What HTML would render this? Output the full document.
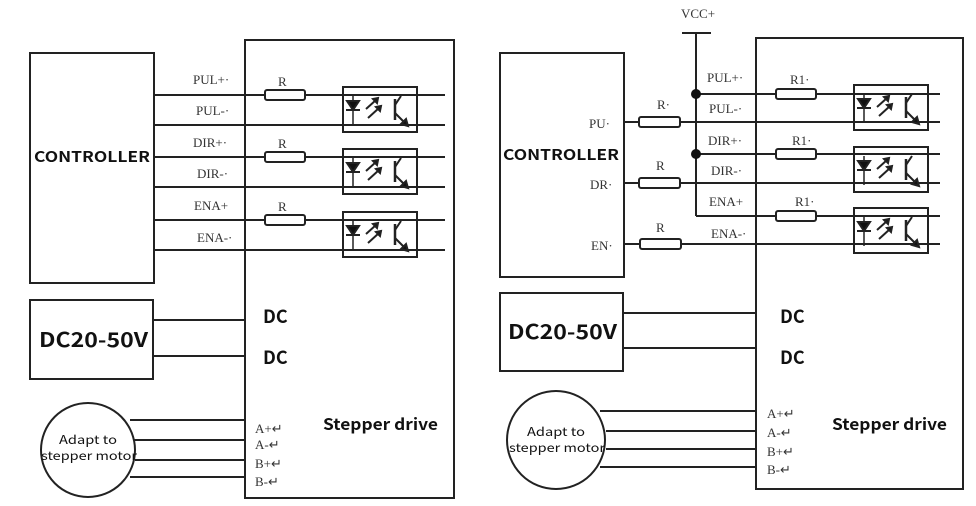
<!DOCTYPE html>
<html><head><meta charset="utf-8"><style>
html,body{margin:0;padding:0;background:#fff;}
svg{display:block;}
.s{font-family:"Liberation Serif",serif;font-size:13px;fill:#333;}
.b{font-family:"Noto Sans CJK SC","Liberation Sans",sans-serif;fill:#111;}
</style></head><body>
<svg width="976" height="506" viewBox="0 0 976 506" xmlns="http://www.w3.org/2000/svg">
<defs>
<g id="opto" stroke="#222" stroke-width="2" fill="none">
 <rect x="0" y="0" width="74" height="45"/>
 <line x1="10" y1="9" x2="10" y2="38" stroke-width="1.5"/>
 <polygon points="4,14 16,14 10,23" fill="#111"/>
 <line x1="3" y1="23" x2="17" y2="23"/>
 <line x1="23" y1="22" x2="33" y2="13"/><polygon points="30,12 35,11 34,16" fill="#111"/>
 <line x1="25" y1="31" x2="36" y2="21"/><polygon points="33,20 38,19 37,24" fill="#111"/>
 <line x1="52" y1="12" x2="52" y2="33" stroke-width="2.5"/>
 <line x1="52" y1="18" x2="58" y2="9"/>
 <line x1="52" y1="26" x2="64" y2="38"/><polygon points="58,37 65,39 63,32" fill="#111"/>
</g>
</defs>
<g stroke="#222" stroke-width="2" fill="none">
 <rect x="30" y="53" width="124" height="230"/>
 <rect x="245" y="40" width="209" height="458"/>
 <line x1="154" y1="95" x2="265" y2="95"/><line x1="305" y1="95" x2="445" y2="95"/>
 <line x1="154" y1="125" x2="445" y2="125"/>
 <line x1="154" y1="157" x2="265" y2="157"/><line x1="305" y1="157" x2="445" y2="157"/>
 <line x1="154" y1="187" x2="445" y2="187"/>
 <line x1="154" y1="220" x2="265" y2="220"/><line x1="305" y1="220" x2="445" y2="220"/>
 <line x1="154" y1="250" x2="445" y2="250"/>
 <rect x="265" y="90" width="40" height="10" rx="2"/>
 <rect x="265" y="152" width="40" height="10" rx="2"/>
 <rect x="265" y="215" width="40" height="10" rx="2"/>
 <rect x="30" y="300" width="123" height="79"/>
 <line x1="153" y1="320" x2="245" y2="320"/><line x1="153" y1="356" x2="245" y2="356"/>
 <circle cx="88" cy="450" r="47"/>
 <line x1="130" y1="420" x2="245" y2="420"/><line x1="134" y1="440" x2="245" y2="440"/>
 <line x1="135" y1="460" x2="245" y2="460"/><line x1="130" y1="477" x2="245" y2="477"/>
 <rect x="500" y="53" width="124" height="224"/>
 <rect x="756" y="38" width="207" height="451"/>
 <line x1="682" y1="33" x2="711" y2="33"/>
 <line x1="696" y1="33" x2="696" y2="216"/>
 <line x1="696" y1="94" x2="776" y2="94"/><line x1="816" y1="94" x2="940" y2="94"/>
 <line x1="624" y1="122" x2="639" y2="122"/><line x1="680" y1="122" x2="940" y2="122"/>
 <line x1="696" y1="154" x2="776" y2="154"/><line x1="816" y1="154" x2="940" y2="154"/>
 <line x1="624" y1="183" x2="639" y2="183"/><line x1="680" y1="183" x2="940" y2="183"/>
 <line x1="696" y1="216" x2="776" y2="216"/><line x1="816" y1="216" x2="940" y2="216"/>
 <line x1="624" y1="244" x2="639" y2="244"/><line x1="680" y1="244" x2="940" y2="244"/>
 <rect x="639" y="117" width="41" height="10" rx="2"/>
 <rect x="639" y="178" width="41" height="10" rx="2"/>
 <rect x="640" y="239" width="41" height="10" rx="2"/>
 <rect x="776" y="89" width="40" height="10" rx="2"/>
 <rect x="776" y="149" width="40" height="10" rx="2"/>
 <rect x="776" y="211" width="40" height="10" rx="2"/>
 <rect x="500" y="293" width="123" height="78"/>
 <line x1="623" y1="313" x2="756" y2="313"/><line x1="623" y1="348" x2="756" y2="348"/>
 <circle cx="556" cy="440" r="49"/>
 <line x1="600" y1="411" x2="756" y2="411"/><line x1="606" y1="431" x2="756" y2="431"/>
 <line x1="606" y1="449" x2="756" y2="449"/><line x1="600" y1="467" x2="756" y2="467"/>
</g>
<circle cx="696" cy="94" r="5" fill="#111"/>
<circle cx="696" cy="154" r="5" fill="#111"/>
<use href="#opto" x="343" y="87"/><use href="#opto" x="343" y="149"/><use href="#opto" x="343" y="212"/>
<use href="#opto" x="854" y="85"/><use href="#opto" x="854" y="147"/><use href="#opto" x="854" y="208"/>
<text class="s" x="193" y="84">PUL+·</text><text class="s" x="196" y="115">PUL-·</text>
<text class="s" x="193" y="147">DIR+·</text><text class="s" x="197" y="178">DIR-·</text>
<text class="s" x="194" y="210">ENA+</text><text class="s" x="197" y="242">ENA-·</text>
<text class="s" x="278" y="86">R</text><text class="s" x="278" y="148">R</text><text class="s" x="278" y="211">R</text>
<text class="s" x="255" y="433">A+↵</text><text class="s" x="255" y="449">A-↵</text>
<text class="s" x="255" y="468">B+↵</text><text class="s" x="255" y="486">B-↵</text>
<text class="b" x="34" y="162" font-size="15" font-weight="bold" textLength="116" lengthAdjust="spacingAndGlyphs">CONTROLLER</text>
<text class="b" x="39" y="347" font-size="20" font-weight="bold" textLength="109" lengthAdjust="spacingAndGlyphs">DC20-50V</text>
<text class="b" x="263" y="323" font-size="18" font-weight="bold">DC</text>
<text class="b" x="263" y="364" font-size="18" font-weight="bold">DC</text>
<text class="b" x="323" y="430" font-size="16" font-weight="bold" textLength="115" lengthAdjust="spacingAndGlyphs">Stepper drive</text>
<text class="b" x="59" y="444" font-size="12" textLength="58" lengthAdjust="spacingAndGlyphs">Adapt to</text>
<text class="b" x="41" y="460" font-size="12" textLength="96" lengthAdjust="spacingAndGlyphs">stepper motor</text>
<text class="s" x="681" y="18">VCC+</text>
<text class="s" x="707" y="82">PUL+·</text><text class="s" x="709" y="113">PUL-·</text>
<text class="s" x="708" y="145">DIR+·</text><text class="s" x="711" y="175">DIR-·</text>
<text class="s" x="709" y="206">ENA+</text><text class="s" x="711" y="238">ENA-·</text>
<text class="s" x="657" y="109">R·</text><text class="s" x="656" y="170">R</text><text class="s" x="656" y="232">R</text>
<text class="s" x="790" y="84">R1·</text><text class="s" x="792" y="145">R1·</text><text class="s" x="795" y="206">R1·</text>
<text class="s" x="589" y="128">PU·</text><text class="s" x="590" y="189">DR·</text><text class="s" x="591" y="250">EN·</text>
<text class="s" x="767" y="418">A+↵</text><text class="s" x="767" y="437">A-↵</text>
<text class="s" x="767" y="456">B+↵</text><text class="s" x="767" y="474">B-↵</text>
<text class="b" x="503" y="160" font-size="15" font-weight="bold" textLength="116" lengthAdjust="spacingAndGlyphs">CONTROLLER</text>
<text class="b" x="508" y="339" font-size="20" font-weight="bold" textLength="109" lengthAdjust="spacingAndGlyphs">DC20-50V</text>
<text class="b" x="780" y="323" font-size="18" font-weight="bold">DC</text>
<text class="b" x="780" y="364" font-size="18" font-weight="bold">DC</text>
<text class="b" x="832" y="430" font-size="16" font-weight="bold" textLength="115" lengthAdjust="spacingAndGlyphs">Stepper drive</text>
<text class="b" x="527" y="436" font-size="12" textLength="58" lengthAdjust="spacingAndGlyphs">Adapt to</text>
<text class="b" x="509" y="452" font-size="12" textLength="96" lengthAdjust="spacingAndGlyphs">stepper motor</text>
</svg>
</body></html>
